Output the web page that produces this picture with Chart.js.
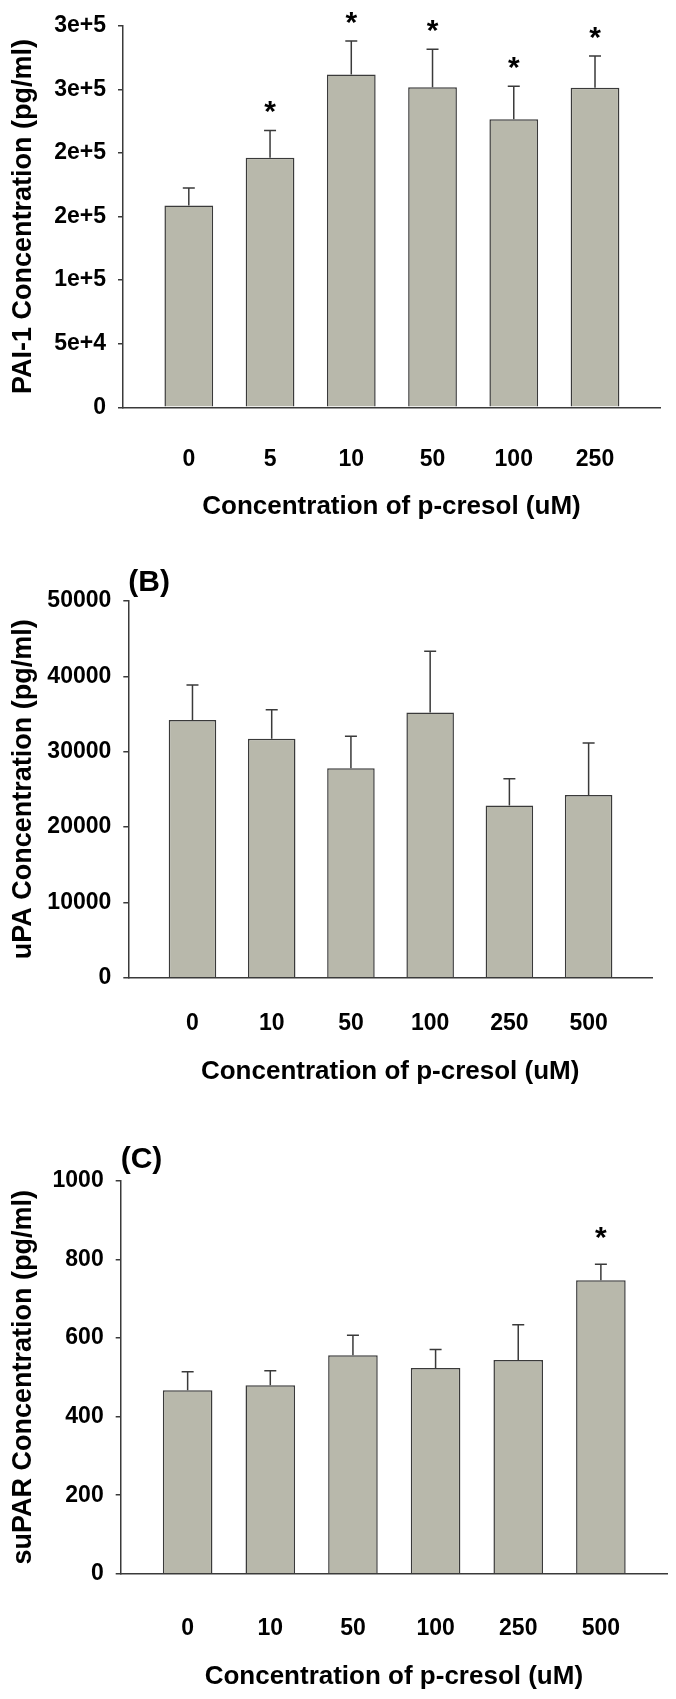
<!DOCTYPE html>
<html>
<head>
<meta charset="utf-8">
<script src="https://cdn.jsdelivr.net/npm/chart.js@4.4.1/dist/chart.umd.min.js"></script>
<style>
  html, body { margin: 0; padding: 0; background: #ffffff; }
  body { width: 676px; height: 1699px; position: relative; overflow: hidden; }
  canvas { position: absolute; left: 0; display: block; }
</style>
</head>
<body>
<canvas id="chartA" width="676" height="540" style="top:0px;width:676px;height:540px"></canvas>
<canvas id="chartB" width="676" height="570" style="top:540px;width:676px;height:570px"></canvas>
<canvas id="chartC" width="676" height="589" style="top:1110px;width:676px;height:589px"></canvas>
<script>
// ---------- Data ----------
const xTitle = 'Concentration of p-cresol (uM)';

// Panel A: PAI-1
const doseA = ['0', '5', '10', '50', '100', '250'];
const meanA = [158700, 196200, 261700, 251600, 226500, 251300];
const semA  = [13700, 21500, 26400, 30000, 25900, 24900];
const sigA  = [false, true, true, true, true, true];
const yTicksA = [0, 50000, 100000, 150000, 200000, 250000, 300000];
const yTickLabelsA = ['0', '5e+4', '1e+5', '2e+5', '2e+5', '3e+5', '3e+5'];

// Panel B: uPA
const doseB = ['0', '10', '50', '100', '250', '500'];
const meanB = [34200, 31700, 27800, 35200, 22850, 24250];
const semB  = [4640, 3860, 4250, 8140, 3550, 6900];
const sigB  = [false, false, false, false, false, false];
const yTicksB = [0, 10000, 20000, 30000, 40000, 50000];
const yTickLabelsB = ['0', '10000', '20000', '30000', '40000', '50000'];

// Panel C: suPAR
const doseC = ['0', '10', '50', '100', '250', '500'];
const meanC = [467, 480, 556, 524, 544, 747];
const semC  = [47, 37, 51, 47, 90, 41];
const sigC  = [false, false, false, false, false, true];
const yTicksC = [0, 200, 400, 600, 800, 1000];
const yTickLabelsC = ['0', '200', '400', '600', '800', '1000'];

// ---------- Style ----------
const FONT = "'Liberation Sans', Arial, Helvetica, sans-serif";
const BAR_FILL = '#b8b8ab';
const LINE = '#3a3a3a';

const decor = {
  id: 'decor',
  afterDatasetsDraw(chart, args, opts) {
    const ctx = chart.ctx;
    const y = chart.scales.y;
    const meta = chart.getDatasetMeta(0);
    const ds = chart.data.datasets[0];
    ctx.save();
    ctx.strokeStyle = LINE;
    ctx.lineWidth = 1.5;
    meta.data.forEach((bar, i) => {
      const yTop = y.getPixelForValue(ds.data[i].y + opts.sem[i]);
      ctx.beginPath();
      ctx.moveTo(bar.x, bar.y);
      ctx.lineTo(bar.x, yTop);
      ctx.moveTo(bar.x - opts.cap / 2, yTop);
      ctx.lineTo(bar.x + opts.cap / 2, yTop);
      ctx.stroke();
      if (opts.sig[i]) {
        ctx.fillStyle = '#000';
        ctx.font = 'bold 30px ' + FONT;
        ctx.textAlign = 'center';
        ctx.textBaseline = 'alphabetic';
        const m = ctx.measureText('*');
        const asc = m.actualBoundingBoxAscent || 20;
        const desc = m.actualBoundingBoxDescent || -10;
        const centerY = yTop - opts.starGap;
        ctx.fillText('*', bar.x, centerY + (asc - desc) / 2);
      }
    });
    if (opts.panel) {
      ctx.fillStyle = '#000';
      ctx.font = 'bold 30px ' + FONT;
      ctx.textAlign = 'left';
      ctx.textBaseline = 'alphabetic';
      ctx.fillText(opts.panel, chart.chartArea.left, chart.chartArea.top - opts.panelGap);
    }
    ctx.restore();
  }
};

function makeChart(id, c) {
  const W = 676;
  return new Chart(document.getElementById(id), {
    type: 'bar',
    data: {
      datasets: [{
        data: c.mean.map((v, i) => ({ x: i, y: v })),
        backgroundColor: BAR_FILL,
        borderColor: LINE,
        borderWidth: 1.5,
        borderSkipped: 'bottom',
        barPercentage: 0.6,
        categoryPercentage: 1.0
      }]
    },
    options: {
      responsive: false,
      animation: false,
      layout: { padding: { top: c.top, right: W - c.right, bottom: 0, left: 0 } },
      plugins: {
        legend: { display: false },
        tooltip: { enabled: false },
        decor: { sem: c.sem, sig: c.sig, cap: 12, starGap: c.starGap, panel: c.panel, panelGap: c.panelGap }
      },
      scales: {
        x: {
          type: 'linear',
          position: 'bottom',
          min: -0.81,
          max: 5.8,
          offset: false,
          afterBuildTicks: s => { s.ticks = c.cats.map((_, i) => ({ value: i })); },
          afterFit: s => { s.height = c.H - c.bottom; },
          grid: { display: false, offset: false },
          border: { display: true, color: LINE, width: 1.5 },
          ticks: {
            callback: (v, i) => c.cats[i],
            padding: c.xPad,
            color: '#000',
            maxRotation: 0,
            autoSkip: false,
            font: { family: FONT, size: 23, weight: 'bold' }
          },
          title: {
            display: true,
            text: xTitle,
            color: '#000',
            font: { family: FONT, size: 26, weight: 'bold' },
            padding: { top: 0, bottom: c.xTitlePad }
          }
        },
        y: {
          min: 0,
          max: c.yTicks[c.yTicks.length - 1],
          afterBuildTicks: s => { s.ticks = c.yTicks.map(v => ({ value: v })); },
          afterFit: s => { s.width = c.left; },
          grid: { display: true, drawOnChartArea: false, drawTicks: true, tickLength: 5, color: LINE, lineWidth: 1.5 },
          border: { display: true, color: LINE, width: 1.5 },
          ticks: {
            callback: (v, i) => c.yLabels[i],
            padding: 12,
            color: '#000',
            font: { family: FONT, size: 23, weight: 'bold' }
          },
          title: {
            display: true,
            text: c.yTitle,
            color: '#000',
            font: { family: FONT, size: 27, weight: 'bold' },
            padding: { top: 7, bottom: 0 }
          }
        }
      }
    },
    plugins: [decor]
  });
}

makeChart('chartA', {
  cats: doseA, mean: meanA, sem: semA, sig: sigA, yTicks: yTicksA, yLabels: yTickLabelsA,
  yTitle: 'PAI-1 Concentration (pg/ml)', panel: null, panelGap: 0, starGap: 23,
  H: 540, left: 123, right: 660, top: 21, bottom: 407.3, xPad: 30.9, xTitlePad: 17.4
});
makeChart('chartB', {
  cats: doseB, mean: meanB, sem: semB, sig: sigB, yTicks: yTicksB, yLabels: yTickLabelsB,
  yTitle: 'uPA Concentration (pg/ml)', panel: '(B)', panelGap: 10, starGap: 23,
  H: 570, left: 128.3, right: 652, top: 61, bottom: 437.7, xPad: 24.5, xTitlePad: 22.8
});
makeChart('chartC', {
  cats: doseC, mean: meanC, sem: semC, sig: sigC, yTicks: yTicksC, yLabels: yTickLabelsC,
  yTitle: 'suPAR Concentration (pg/ml)', panel: '(C)', panelGap: 13, starGap: 31,
  H: 589, left: 120.7, right: 667, top: 71, bottom: 463.7, xPad: 32.7, xTitlePad: 6.8
});
</script>
</body>
</html>
